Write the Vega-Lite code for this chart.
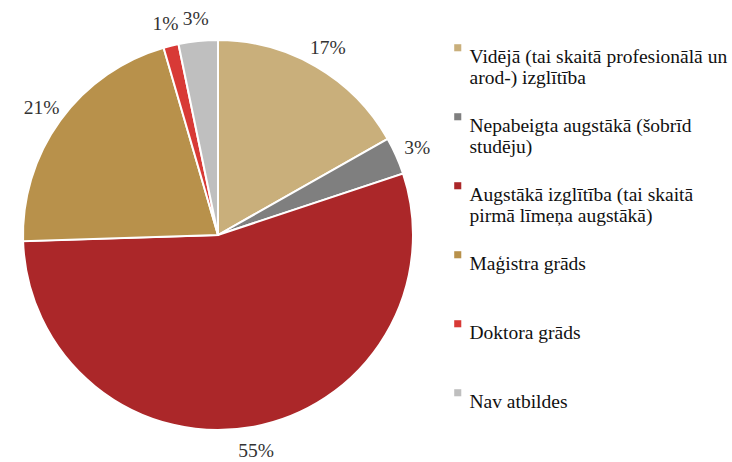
{
  "$schema": "https://vega.github.io/schema/vega-lite/v6.json",
  "width": 436,
  "height": 454,
  "autosize": "none",
  "padding": {"left": 0, "top": 8, "right": 296, "bottom": 0},
  "background": "white",
  "config": {"view": {"stroke": null}},
  "data": {
    "values": [
      {"i": 1, "cat": "Vidējā (tai skaitā profesionālā un arod-) izglītība", "v": 16.8, "lbl": "17%"},
      {"i": 2, "cat": "Nepabeigta augstākā (šobrīd studēju)", "v": 3.1, "lbl": "3%"},
      {"i": 3, "cat": "Augstākā izglītība (tai skaitā pirmā līmeņa augstākā)", "v": 54.6, "lbl": "55%"},
      {"i": 4, "cat": "Maģistra grāds", "v": 21.0, "lbl": "21%"},
      {"i": 5, "cat": "Doktora grāds", "v": 1.25, "lbl": "1%"},
      {"i": 6, "cat": "Nav atbildes", "v": 3.25, "lbl": "3%"}
    ]
  },
  "encoding": {
    "theta": {"field": "v", "type": "quantitative", "stack": true},
    "order": {"field": "i", "type": "quantitative"}
  },
  "layer": [
    {
      "mark": {"type": "arc", "outerRadius": 195, "stroke": "white", "strokeWidth": 2},
      "encoding": {
        "color": {
          "field": "cat",
          "type": "nominal",
          "scale": {
            "domain": [
              "Vidējā (tai skaitā profesionālā un arod-) izglītība",
              "Nepabeigta augstākā (šobrīd studēju)",
              "Augstākā izglītība (tai skaitā pirmā līmeņa augstākā)",
              "Maģistra grāds",
              "Doktora grāds",
              "Nav atbildes"
            ],
            "range": ["#C9AF7B", "#7F7F7F", "#AB2729", "#B8914B", "#D83A36", "#BFBFBF"]
          },
          "legend": {
            "title": null,
            "orient": "none",
            "legendX": 448,
            "legendY": 30,
            "symbolType": "square",
            "symbolSize": 50,
            "symbolStrokeWidth": 0,
            "labelFont": "Liberation Serif",
            "labelFontSize": 19.5,
            "labelColor": "#111111",
            "labelLimit": 300,
            "labelOffset": 2,
            "labelBaseline": "top",
            "rowPadding": 19,
            "encode": {"labels": {"update": {"lineHeight": {"value": 22}, "dy": {"value": -14}}}},
            "labelExpr": "datum.label == 'Vidējā (tai skaitā profesionālā un arod-) izglītība' ? ['Vidējā (tai skaitā profesionālā un', 'arod-) izglītība'] : datum.label == 'Nepabeigta augstākā (šobrīd studēju)' ? ['Nepabeigta augstākā (šobrīd', 'studēju)'] : datum.label == 'Augstākā izglītība (tai skaitā pirmā līmeņa augstākā)' ? ['Augstākā izglītība (tai skaitā', 'pirmā līmeņa augstākā)'] : [datum.label, ' ']"
          }
        }
      }
    },
    {
      "mark": {"type": "text", "radius": 218, "dy": 1, "font": "Liberation Serif", "fontSize": 19.5, "color": "#333333"},
      "encoding": {"text": {"field": "lbl"}}
    }
  ]
}
